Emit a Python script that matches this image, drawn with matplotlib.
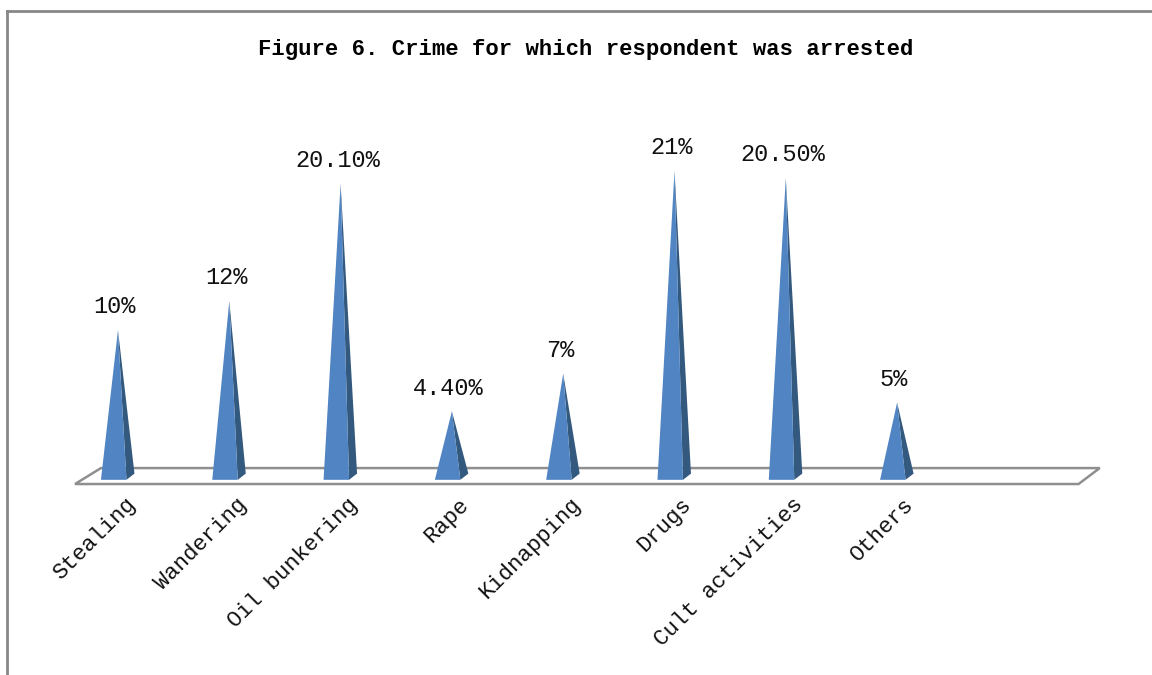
import numpy as np
import matplotlib
matplotlib.use("Agg")
import matplotlib.pyplot as plt
from matplotlib.patches import Polygon
from matplotlib.lines import Line2D

# data
categories = ["Stealing", "Wandering", "Oil bunkering", "Rape",
              "Kidnapping", "Drugs", "Cult activities", "Others"]
values = [10, 12, 20.1, 4.4, 7, 21, 20.5, 5]
value_labels = ["10%", "12%", "20.10%", "4.40%", "7%", "21%", "20.50%", "5%"]

fnt = ["Liberation Mono", "DejaVu Sans Mono"]

fig = plt.figure(figsize=(11.52, 6.75), dpi=100)
ax = fig.add_axes([0, 0, 1, 1])
ax.set_xlim(-1.060, 9.290)
ax.set_ylim(-13.79, 32.76)
ax.axis("off")

# outer frame (only top and left visible in the picture)
fig.add_artist(Line2D([7 / 1152, 1], [1 - 11 / 675, 1 - 11 / 675],
                      transform=fig.transFigure, color="#878787", lw=2))
fig.add_artist(Line2D([7 / 1152, 7 / 1152], [0, 1 - 11 / 675],
                      transform=fig.transFigure, color="#878787", lw=2))

# floor of the 3d chart
n_slots = len(categories) + 1
floor = Polygon([(-0.386, -0.62), (n_slots - 0.37, -0.62),
                 (n_slots - 0.18, 0.48), (-0.153, 0.48)],
                closed=True, facecolor="white", edgecolor="#8f8f8f", lw=1.8, zorder=1)
ax.add_patch(floor)

# pyramids
for i, v in enumerate(values):
    x = i
    front = Polygon([(x - 0.153, -0.33), (x + 0.076, -0.33), (x, v)],
                    closed=True, facecolor="#5184C2", edgecolor="none", zorder=3)
    side = Polygon([(x + 0.076, -0.33), (x + 0.148, 0.1), (x, v)],
                   closed=True, facecolor="#34597F", edgecolor="none", zorder=2)
    ax.add_patch(side)
    ax.add_patch(front)
    ax.text(x - 0.03, v + 0.8, value_labels[i], ha="center", va="bottom",
            fontsize=17, family=fnt, color="#111111")

# category labels, rotated 45 degrees
for i, c in enumerate(categories):
    ax.text(i + 0.06, -1.3, c, rotation=45, rotation_mode="anchor",
            ha="right", va="top", fontsize=16, family=fnt, color="#111111")

fig.text(0.508, 1 - 50 / 675, "Figure 6. Crime for which respondent was arrested",
         ha="center", va="center", fontsize=16, fontweight="bold", family=fnt)

fig.savefig("out.png", dpi=100)
